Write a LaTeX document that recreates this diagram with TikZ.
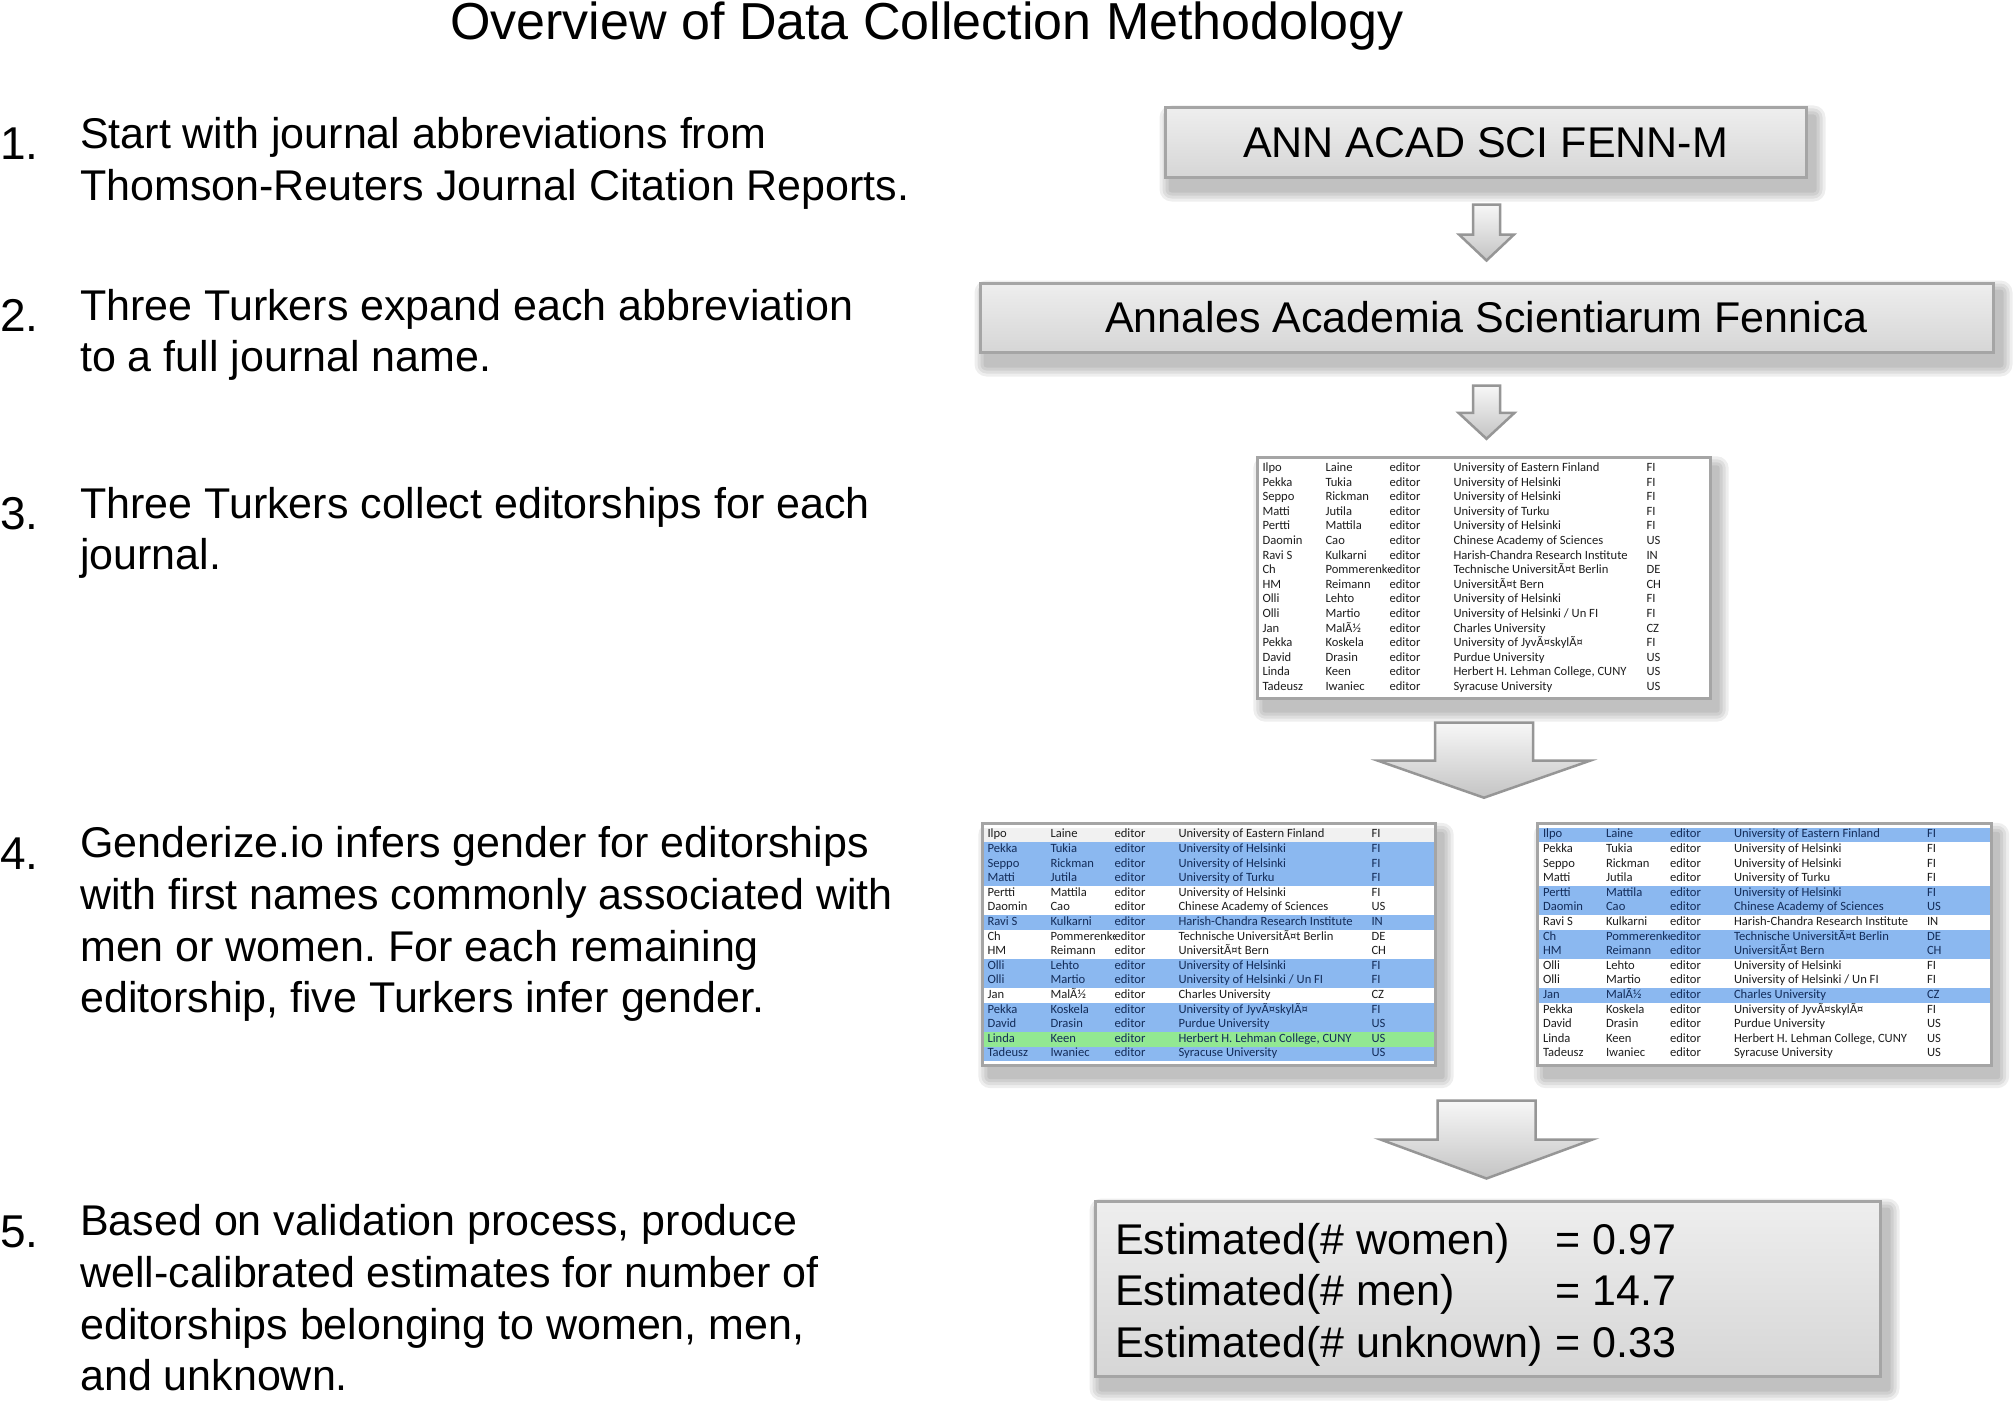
\documentclass[tikz,border=0pt]{standalone}
\usepackage{fontspec}
\setmainfont{Liberation Sans}
\newfontfamily\tabfont{Carlito}
\usepackage{colortbl}
\usetikzlibrary{calc}
\pgfdeclarelayer{back}
\pgfdeclarelayer{bg}
\pgfsetlayers{back,bg,main}
\frenchspacing

\definecolor{boxtop}{RGB}{238,238,238}
\definecolor{boxbot}{RGB}{214,214,214}
\definecolor{boxline}{RGB}{165,165,165}
\definecolor{arrtop}{RGB}{247,247,247}
\definecolor{arrbot}{RGB}{196,196,196}
\definecolor{arrline}{RGB}{150,150,150}
\definecolor{rowbgW}{RGB}{255,255,255}
\definecolor{rowfgW}{RGB}{30,30,30}
\definecolor{rowbgL}{RGB}{241,241,241}
\definecolor{rowfgL}{RGB}{30,30,30}
\definecolor{rowbgB}{RGB}{139,184,240}
\definecolor{rowfgB}{RGB}{20,45,90}
\definecolor{rowbgG}{RGB}{146,232,146}
\definecolor{rowfgG}{RGB}{20,45,90}

\tikzset{
  graybox/.style={rectangle, draw=boxline, line width=3pt, top color=boxtop,
    bottom color=boxbot, inner sep=0pt, font=\fontsize{43}{52}\selectfont},
  tabframe/.style={rectangle, fill=white, inner sep=0pt,
    minimum width=453pt, minimum height=241pt},
  tabborder/.style={draw=boxline, line width=3pt},
  steptext/.style={anchor=base west, inner sep=0pt, font=\fontsize{43}{52}\selectfont},
  numtext/.style={anchor=base west, inner sep=0pt, font=\fontsize{46}{52}\selectfont},
  titletext/.style={anchor=base, inner sep=0pt, font=\fontsize{52}{60}\selectfont},
  arrowbody/.style={draw=arrline, line width=2.5pt, top color=arrtop,
    bottom color=arrbot, line join=miter},
}

\newcommand\edrow[5]{\rowcolor{rowbg#1}\textcolor{rowfg#1}{#2}&\textcolor{rowfg#1}{#3}&\textcolor{rowfg#1}{editor}&\textcolor{rowfg#1}{#4}&\textcolor{rowfg#1}{#5}\\}
\newcommand\tbodyA[8]{%
\edrow{#1}{Ilpo}{Laine}{University of Eastern Finland}{FI}
\edrow{#2}{Pekka}{Tukia}{University of Helsinki}{FI}
\edrow{#3}{Seppo}{Rickman}{University of Helsinki}{FI}
\edrow{#4}{Matti}{Jutila}{University of Turku}{FI}
\edrow{#5}{Pertti}{Mattila}{University of Helsinki}{FI}
\edrow{#6}{Daomin}{Cao}{Chinese Academy of Sciences}{US}
\edrow{#7}{Ravi S}{Kulkarni}{Harish-Chandra Research Institute}{IN}
\edrow{#8}{Ch}{Pommerenke}{Technische UniversitÃ¤t Berlin}{DE}}
\newcommand\tbodyB[8]{%
\edrow{#1}{HM}{Reimann}{UniversitÃ¤t Bern}{CH}
\edrow{#2}{Olli}{Lehto}{University of Helsinki}{FI}
\edrow{#3}{Olli}{Martio}{University of Helsinki / Un FI}{FI}
\edrow{#4}{Jan}{MalÃ½}{Charles University}{CZ}
\edrow{#5}{Pekka}{Koskela}{University of JyvÃ¤skylÃ¤}{FI}
\edrow{#6}{David}{Drasin}{Purdue University}{US}
\edrow{#7}{Linda}{Keen}{Herbert H. Lehman College, CUNY}{US}
\edrow{#8}{Tadeusz}{Iwaniec}{Syracuse University}{US}}
\newcommand\tabstart{\tabfont\fontsize{12.6}{14.6}\selectfont\setlength\tabcolsep{0pt}}
\newenvironment{edtab}{\tabstart\begin{tabular}{@{}>{\hspace*{5pt}}p{68pt}p{64pt}p{64pt}p{193pt}p{64pt}@{}}}{\end{tabular}}

\newcommand\boxshadow[1]{%
  \begin{pgfonlayer}{bg}
  \foreach \r in {12,9,6,3}{%
    \fill[black, opacity=0.065, rounded corners=\r*1pt]
      ($(#1.north west)+(8-\r,11-\r)$) rectangle ($(#1.south east)+(6+\r,11+\r)$);}
  \end{pgfonlayer}}

\newcommand\blockarrow[5]{%
  \begin{pgfonlayer}{bg}
  \foreach \s in {2,5,8}{%
    \fill[black, opacity=0.07, shift={(0,\s)}] let \p1=(#1), \p2=(#2) in
      (\x1-#3pt,\y1) -- (\x1+#3pt,\y1) -- (\x1+#3pt,\y2+#5pt) -- (\x1+#4pt,\y2+#5pt)
      -- (\x1,\y2) -- (\x1-#4pt,\y2+#5pt) -- (\x1-#3pt,\y2+#5pt) -- cycle;}
  \end{pgfonlayer}
  \path[arrowbody] let \p1=(#1), \p2=(#2) in
      (\x1-#3pt,\y1) -- (\x1+#3pt,\y1) -- (\x1+#3pt,\y2+#5pt) -- (\x1+#4pt,\y2+#5pt)
      -- (\x1,\y2) -- (\x1-#4pt,\y2+#5pt) -- (\x1-#3pt,\y2+#5pt) -- cycle;}

\begin{document}
\begin{tikzpicture}[x=1pt, y=-1pt]
\useasboundingbox (0,0) rectangle (2016,1402);
\begin{pgfonlayer}{back}
  \fill[white] (0,0) rectangle (2016,1402);
\end{pgfonlayer}

% title
\node[titletext] (title) at (927,40) {Overview of Data Collection Methodology};

% step numbers
\node[numtext] (n1) at (0,160) {1.};
\node[numtext] (n2) at (0,331) {2.};
\node[numtext] (n3) at (0,529) {3.};
\node[numtext] (n4) at (0,869) {4.};
\node[numtext] (n5) at (0,1247) {5.};

% step texts
\node[steptext] (s1a) at (80,149) {Start with journal abbreviations from};
\node[steptext] (s1b) at (80,200.7) {Thomson-Reuters Journal Citation Reports.};
\node[steptext] (s2a) at (80,320) {Three Turkers expand each abbreviation};
\node[steptext] (s2b) at (80,371.7) {to a full journal name.};
\node[steptext] (s3a) at (80,518) {Three Turkers collect editorships for each};
\node[steptext] (s3b) at (80,569.7) {journal.};
\node[steptext] (s4a) at (80,857.6) {Genderize.io infers gender for editorships};
\node[steptext] (s4b) at (80,909.3) {with first names commonly associated with};
\node[steptext] (s4c) at (80,961) {men or women. For each remaining};
\node[steptext] (s4d) at (80,1012.7) {editorship, five Turkers infer gender.};
\node[steptext] (s5a) at (80,1235.6) {Based on validation process, produce};
\node[steptext] (s5b) at (80,1287.3) {well-calibrated estimates for number of};
\node[steptext] (s5c) at (80,1339) {editorships belonging to women, men,};
\node[steptext] (s5d) at (80,1390.7) {and unknown.};

% boxes
\node[graybox, minimum width=641pt, minimum height=69pt] (b1) at (1485.5,142.5) {ANN ACAD SCI FENN-M};
\node[graybox, minimum width=1013pt, minimum height=69pt] (b2) at (1486.5,317.5) {Annales Academia Scientiarum Fennica};
\boxshadow{b1}
\boxshadow{b2}

% tables
\node[tabframe] (t1) at (1484,578) {\begin{edtab}
\tbodyA{W}{W}{W}{W}{W}{W}{W}{W}
\tbodyB{W}{W}{W}{W}{W}{W}{W}{W}
\end{edtab}};
\node[tabframe] (t2) at (1209,944.5) {\begin{edtab}
\tbodyA{L}{B}{B}{B}{W}{W}{B}{W}
\tbodyB{W}{B}{B}{W}{B}{B}{G}{B}
\end{edtab}};
\node[tabframe] (t3) at (1764.5,944.5) {\begin{edtab}
\tbodyA{B}{W}{W}{W}{B}{B}{W}{B}
\tbodyB{B}{W}{W}{B}{W}{W}{W}{W}
\end{edtab}};
\foreach \t in {t1,t2,t3}{\draw[tabborder] (\t.north west) rectangle (\t.south east);}
\boxshadow{t1}
\boxshadow{t2}
\boxshadow{t3}

% result box
\node[graybox, minimum width=785pt, minimum height=175pt] (b5) at (1487.5,1288.5) {};
\boxshadow{b5}
\node[steptext] (e1) at (1115,1254) {Estimated(\# women)};
\node[steptext] (e2) at (1115,1305.5) {Estimated(\# men)};
\node[steptext] (e3) at (1115,1357) {Estimated(\# unknown)};
\coordinate (v3pos) at ($(e3.base east)+(12,0)$);
\node[steptext] (v3) at (v3pos) {= 0.33};
\node[steptext] (v1) at (v3pos |- e1.base) {= 0.97};
\node[steptext] (v2) at (v3pos |- e2.base) {= 14.7};

% arrows
\coordinate (a1t) at ($(b1.south)+(1,26)$);
\coordinate (a1b) at ($(b2.north)+(0,-21)$);
\blockarrow{a1t}{a1b}{13.5}{27.5}{26}
\coordinate (a2t) at ($(b2.south)+(0,32)$);
\coordinate (a2b) at ($(t1.north)+(2,-18.5)$);
\blockarrow{a2t}{a2b}{13.5}{28}{26}
\coordinate (a3t) at ($(t1.south)+(0,24)$);
\coordinate (a3b) at ($(t1.south)+(0,99)$);
\blockarrow{a3t}{a3b}{49}{106}{37}
\coordinate (a4t) at ($(b5.north)+(-1,-99)$);
\coordinate (a4b) at ($(b5.north)+(-1,-21)$);
\blockarrow{a4t}{a4b}{49}{106}{39}
\end{tikzpicture}
\end{document}
